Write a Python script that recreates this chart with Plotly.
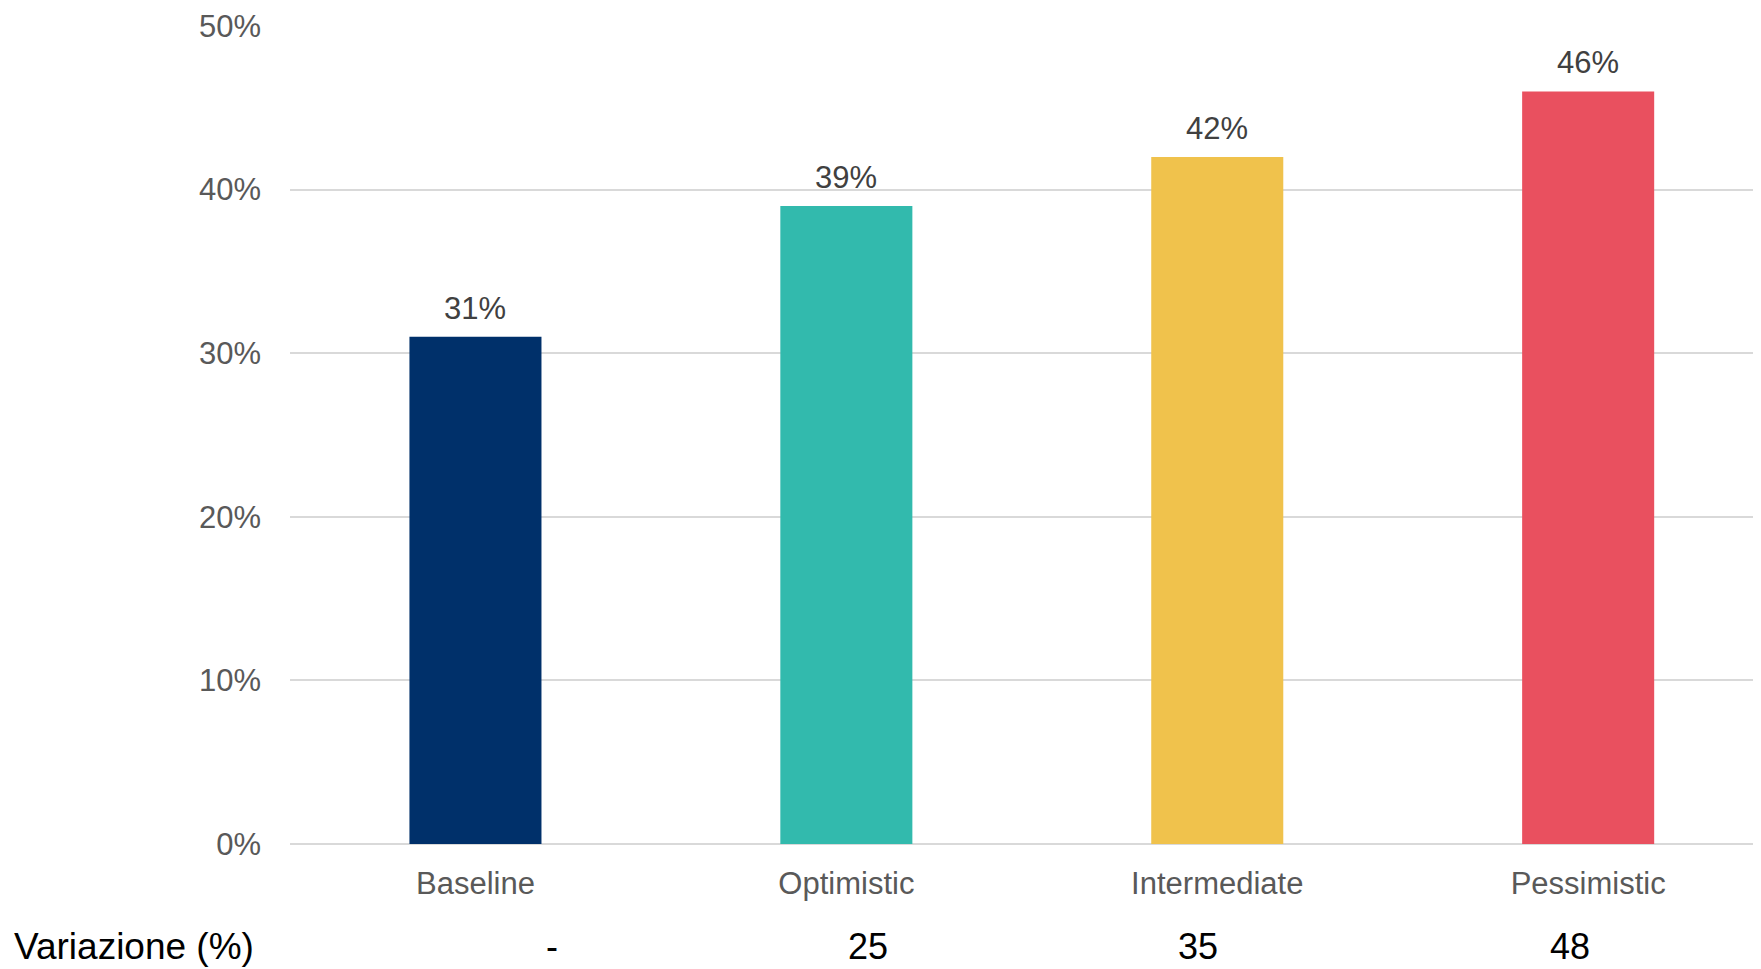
import plotly.graph_objects as go

categories = ["Baseline", "Optimistic", "Intermediate", "Pessimistic"]
values = [31, 39, 42, 46]
value_labels = ["31%", "39%", "42%", "46%"]
bar_colors = ["#00306A", "#32BAAD", "#F0C24C", "#E9505F"]
row_title = "Variazione (%)"
row_values = ["-", "25", "35", "48"]
y_ticks = [0, 10, 20, 30, 40, 50]
y_tick_labels = ["0%", "10%", "20%", "30%", "40%", "50%"]

# page body has an 8px default margin; compensate
OFF = 8
W, H = 1761 - OFF, 969 - OFF
ML, MR, MT = 290 - OFF, 0, 26 - OFF
PLOT_BOTTOM = 844 - OFF
MB = H - PLOT_BOTTOM
PW = W - ML - MR
PH = H - MT - MB

fig = go.Figure()
fig.add_trace(go.Bar(
    x=categories, y=values, marker=dict(color=bar_colors, line=dict(width=0)),
    width=0.356, hoverinfo="skip",
))

annotations = []
for c, v, t in zip(categories, values, value_labels):
    annotations.append(dict(x=c, y=v, xref="x", yref="y", text=t, showarrow=False,
                            yanchor="bottom", yshift=9,
                            font=dict(family="Liberation Sans, Arial", size=31, color="#404040")))

row_y_page = 946
row_y = (PLOT_BOTTOM - (row_y_page - OFF)) / PH
row_x_px = [552, 868, 1198, 1570]
annotations.append(dict(x=(13 - OFF - ML) / PW, y=row_y, xref="paper", yref="paper", text=row_title,
                        showarrow=False, xanchor="left", yanchor="middle", borderpad=0,
                        font=dict(family="Liberation Sans, Arial", size=37, color="#000000")))
for px, t in zip(row_x_px, row_values):
    annotations.append(dict(x=(px - OFF - ML) / PW, y=row_y, xref="paper", yref="paper", text=t,
                            showarrow=False, xanchor="center", yanchor="middle", borderpad=0,
                            font=dict(family="Liberation Sans, Arial", size=36, color="#000000")))

fig.update_layout(
    width=W, height=H,
    margin=dict(l=ML, r=MR, t=MT, b=MB),
    paper_bgcolor="white", plot_bgcolor="white",
    showlegend=False,
    annotations=annotations,
    font=dict(family="Liberation Sans, Arial"),
    xaxis=dict(range=[-0.5, 3.466], showgrid=False, showline=False, zeroline=False,
               tickfont=dict(size=31, color="#595959"), ticks="", ticklabelstandoff=18),
    yaxis=dict(range=[0, 50], tickvals=y_ticks, ticktext=y_tick_labels,
               showgrid=True, gridcolor="#D9D9D9", gridwidth=2,
               zeroline=True, zerolinecolor="#D9D9D9", zerolinewidth=2,
               showline=False, ticks="", ticklabelstandoff=28,
               tickfont=dict(size=31, color="#595959")),
)

fig.write_html("out.html")
